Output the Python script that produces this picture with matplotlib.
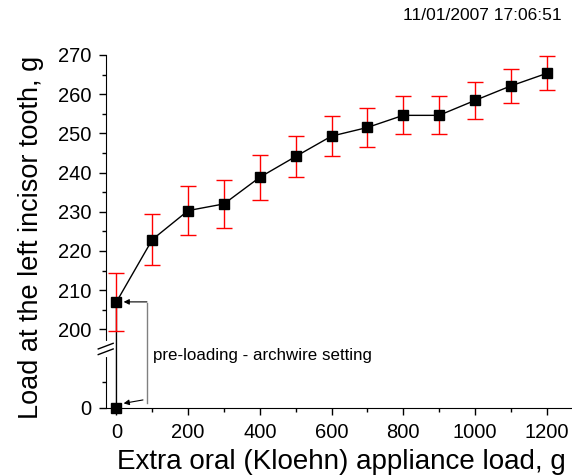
import numpy as np
import matplotlib
matplotlib.use('Agg')
import matplotlib.pyplot as plt

# data
load_x = [0, 100, 200, 300, 400, 500, 600, 700, 800, 900, 1000, 1100, 1200]
tooth_load = [207.0, 222.9, 230.3, 232.0, 238.8, 244.1, 249.3, 251.5, 254.6, 254.6, 258.4, 262.1, 265.3]
tooth_err = [7.4, 6.6, 6.2, 6.05, 5.7, 5.35, 5.15, 5.0, 4.85, 4.85, 4.7, 4.45, 4.35]
zero_x = [0]
zero_load = [0.0]
y_major = [0, 200, 210, 220, 230, 240, 250, 260, 270]
y_minor = [5, 205, 215, 225, 235, 245, 255, 265]
x_major = [0, 200, 400, 600, 800, 1000, 1200]
x_minor = [100, 300, 500, 700, 900, 1100]
stamp = "11/01/2007 17:06:51"
note = "pre-loading - archwire setting"

# broken y scale: 0..10 squeezed in below 195..270
LOW_TOP, K = 10.0, 1.32
HIGH_BOT, OFF = 195.0, 180.0


def fwd(y):
    y = np.asarray(y, dtype=float)
    t_low = y * K
    t_high = y - OFF
    t_mid = LOW_TOP * K + (y - LOW_TOP) * (HIGH_BOT - OFF - LOW_TOP * K) / (HIGH_BOT - LOW_TOP)
    return np.where(y <= LOW_TOP, t_low, np.where(y >= HIGH_BOT, t_high, t_mid))


def inv(t):
    t = np.asarray(t, dtype=float)
    t0, t1 = LOW_TOP * K, HIGH_BOT - OFF
    y_low = t / K
    y_high = t + OFF
    y_mid = LOW_TOP + (t - t0) * (HIGH_BOT - LOW_TOP) / (t1 - t0)
    return np.where(t <= t0, y_low, np.where(t >= t1, y_high, y_mid))


plt.rcParams['font.family'] = ['Liberation Sans', 'DejaVu Sans']

fig = plt.figure(figsize=(5.72, 4.76), dpi=100)
ax = fig.add_axes([105.7 / 572, 1 - 407.7 / 476, 466.3 / 572, 352.7 / 476])
ax.set_yscale('function', functions=(fwd, inv))

# line through all points, including the unloaded one
ax.plot(zero_x + load_x, zero_load + tooth_load, color='black', lw=1, zorder=2)
ax.errorbar(load_x, tooth_load, yerr=tooth_err, fmt='none', ecolor='red',
            elinewidth=1, capsize=5.5, capthick=1, zorder=3)
ax.plot(zero_x + load_x, zero_load + tooth_load, ls='none', marker='s',
        ms=6.5, color='black', zorder=4, clip_on=False)

ax.set_xlim(-30, 1271)
ax.set_ylim(0, 270)
ax.set_xticks(x_major)
ax.set_xticks(x_minor, minor=True)
ax.set_yticks(y_major)
ax.set_yticks(y_minor, minor=True)
ax.set_yticklabels([str(v) for v in y_major])
ax.tick_params(which='major', direction='out', length=5, width=1, labelsize=14.5)
ax.tick_params(axis='x', which='major', pad=6)
ax.tick_params(axis='y', which='major', pad=5)
ax.tick_params(which='minor', direction='out', length=3, width=1)
for s in ['top', 'right']:
    ax.spines[s].set_visible(False)

ax.set_xlabel("Extra oral (Kloehn) appliance load, g", fontsize=20, va='center')
ax.xaxis.set_label_coords(0.506, -0.154)
ax.set_ylabel("Load at the left incisor tooth, g", fontsize=19.5, va='center')
ax.yaxis.set_label_coords(-0.16, 0.484)

# axis break mark
brk = fwd(194.0) / 90.0
ax.plot([0, 0], [brk - 0.017, brk + 0.017], transform=ax.transAxes, color='white',
        lw=3, clip_on=False, zorder=5)
for dy in (-0.008, 0.008):
    ax.plot([-0.016, 0.016], [brk + dy - 0.008, brk + dy + 0.008], transform=ax.transAxes,
            color='black', lw=1, clip_on=False, zorder=6)

# bracket with arrows
ax.plot([85, 85], [0.84, 206.6], color='grey', lw=1, zorder=2)
ax.annotate('', xy=(20, 207.0), xytext=(85, 207.0),
            arrowprops=dict(arrowstyle='-|>', color='black', lw=0.8,
                            mutation_scale=8, shrinkA=0, shrinkB=0))
ax.annotate('', xy=(20, 0.84), xytext=(74, 1.5),
            arrowprops=dict(arrowstyle='-|>', color='black', lw=0.8,
                            mutation_scale=8, shrinkA=0, shrinkB=0))
ax.text(102, 0.148, note, transform=ax.get_xaxis_transform(), fontsize=12.2,
        ha='left', va='center')

fig.text(0.982, 0.968, stamp, fontsize=12.5, ha='right', va='center')

fig.savefig('out.png', dpi=100)
